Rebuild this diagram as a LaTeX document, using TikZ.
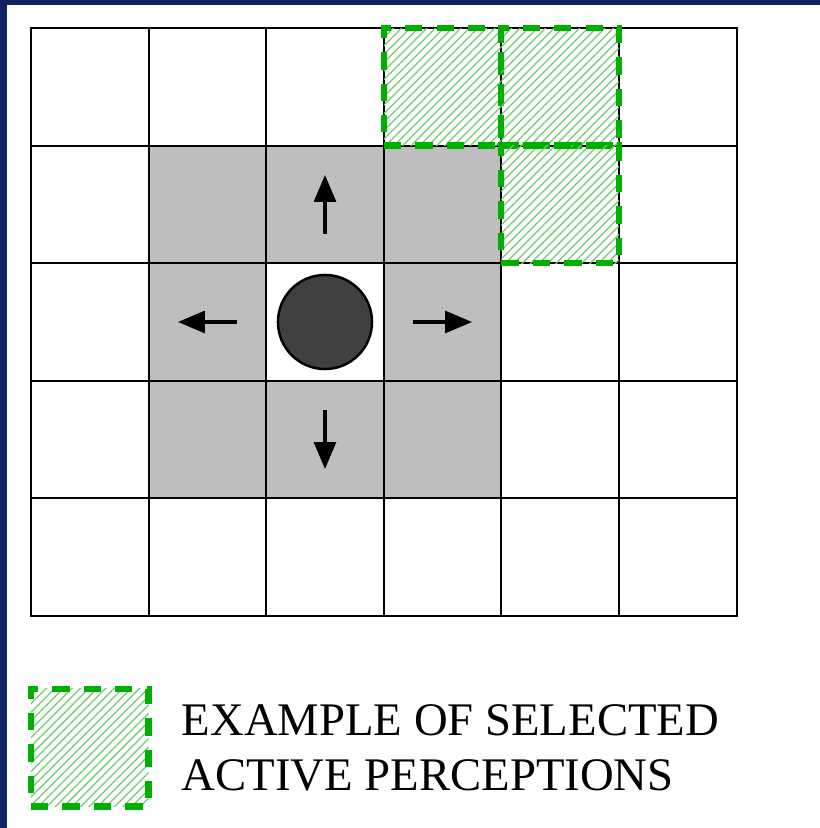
\documentclass[tikz,border=0pt]{standalone}
\usepackage{fontspec}
\setmainfont{Liberation Serif}
\usetikzlibrary{arrows.meta,positioning,patterns.meta,backgrounds}
\definecolor{slideblue}{RGB}{14,34,100}
\definecolor{occupied}{RGB}{190,190,190}
\definecolor{agentgray}{RGB}{64,64,64}
\definecolor{perceptgreen}{RGB}{0,176,0}
\definecolor{hatchgreen}{RGB}{110,205,110}

\begin{document}
\begin{tikzpicture}[
    cell/.style={draw=black, line width=0.5pt, minimum size=1cm, inner sep=0pt},
    percept/.style={
      draw=perceptgreen,
      line width=1.5pt,
      dash pattern=on 4.2pt off 3.4pt,
      pattern={Lines[angle=45,distance=1.45pt,line width=0.3pt]},
      pattern color=hatchgreen,
      minimum size=1cm,
      inner sep=0pt,
    },
    agent/.style={circle, draw=black, line width=0.6pt, fill=agentgray,
      minimum size=0.8cm, inner sep=0pt},
    move/.style={-{Triangle[length=6.5pt,width=5.3pt]}, line width=0.75pt},
    legend/.style={font=\fontsize{11.3}{13.3}\selectfont, align=left, inner sep=0pt},
  ]
  \useasboundingbox (-0.2636,0.238) rectangle (6.709,-6.803);
  % grid of cells
  \foreach \r in {0,...,4}
    \foreach \c in {0,...,5}
      \node[cell] (c-\r-\c) at (\c+0.5,-\r-0.5) {};
  \begin{scope}[on background layer]
    \fill[slideblue] (-0.2636,0.238) rectangle (6.709,-6.803);
    \fill[white] (-0.204,0.196) rectangle (6.709,-6.803);
    \fill[occupied] (c-1-1.north west) rectangle (c-3-3.south east);
    \fill[white] (c-2-2.north west) rectangle (c-2-2.south east);
  \end{scope}
  % selected perceptions
  \node[percept] (p-0-3) at (c-0-3) {};
  \node[percept] (p-0-4) at (c-0-4) {};
  \node[percept] (p-1-4) at (c-1-4) {};
  % agent and its moves
  \node[agent] (agent) at (c-2-2) {};
  \draw[move] ([yshift=-0.25cm]c-1-2.center) -- ([yshift=0.25cm]c-1-2.center);
  \draw[move] ([xshift=0.25cm]c-2-1.center) -- ([xshift=-0.25cm]c-2-1.center);
  \draw[move] ([xshift=-0.25cm]c-2-3.center) -- ([xshift=0.25cm]c-2-3.center);
  \draw[move] ([yshift=0.25cm]c-3-2.center) -- ([yshift=-0.25cm]c-3-2.center);
  % legend
  \node[percept] (sample) at (0.5,-6.12) {};
  \node[legend, right=0.25cm of sample] (sampletext) {EXAMPLE OF SELECTED\\ACTIVE PERCEPTIONS};
\end{tikzpicture}
\end{document}
